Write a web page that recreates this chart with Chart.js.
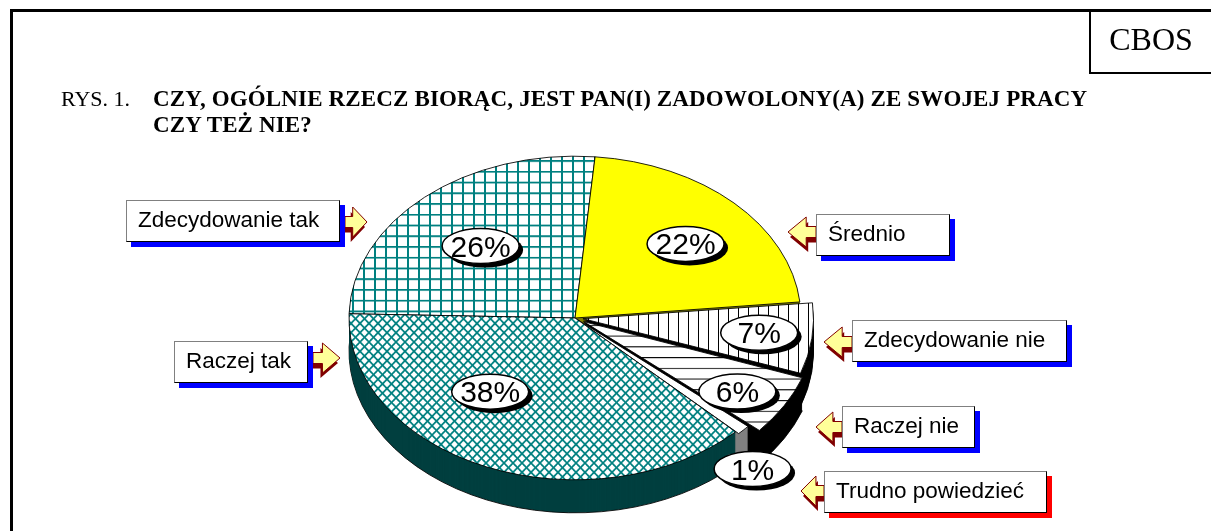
<!DOCTYPE html>
<html lang="pl">
<head>
<meta charset="utf-8">
<title>CBOS - zadowolenie z pracy</title>
<script src="https://cdn.jsdelivr.net/npm/chart.js@4.4.1/dist/chart.umd.min.js"></script>
<style>
  html, body { margin: 0; padding: 0; background: #fff; width: 1211px; height: 531px; overflow: hidden; }
  body { position: relative; }
  #wykres { position: absolute; left: 0; top: 0; }
  .ramka { position: absolute; background: #000; }
  .serif { position: absolute; white-space: nowrap; color: #000; font-family: 'Liberation Serif', 'Times New Roman', serif; line-height: 1; }
  .opis {
    position: absolute; box-sizing: border-box; height: 42px; background: #fff;
    border: 1px solid #808080; border-right-color: #000; border-bottom-color: #000;
    font-family: 'Liberation Sans', Arial, sans-serif; font-size: 22.5px; line-height: 38px;
    padding-left: 11px; white-space: nowrap; color: #000;
  }
</style>
</head>
<body>
<canvas id="wykres" width="1211" height="531"></canvas>

<div class="ramka" style="left:10px; top:9px; width:1201px; height:3px"></div>
<div class="ramka" style="left:10px; top:9px; width:3px; height:522px"></div>
<div class="ramka" style="left:1089px; top:9px; width:2px; height:65px"></div>
<div class="ramka" style="left:1089px; top:72px; width:122px; height:2px"></div>
<div class="serif" style="left:1091px; width:120px; text-align:center; top:23px; font-size:32px">CBOS</div>

<div class="serif" style="left:61px; top:88px; font-size:22px">RYS. 1.</div>
<div class="serif" style="left:153px; top:87px; font-size:23px; font-weight:bold; letter-spacing:0.15px">CZY, OGÓLNIE RZECZ BIORĄC, JEST PAN(I) ZADOWOLONY(A) ZE SWOJEJ PRACY</div>
<div class="serif" style="left:153px; top:113px; font-size:23px; font-weight:bold; letter-spacing:0.15px">CZY TEŻ NIE?</div>

<script>
// dane z wykresu
const kategorie = ['Zdecydowanie tak', 'Średnio', 'Zdecydowanie nie', 'Raczej nie', 'Trudno powiedzieć', 'Raczej tak'];
const procenty = [26, 22, 7, 6, 1, 38];

// wyglad "3D" tortu
const SRODEK = { x: 575, y: 318 };
const SPLASZCZENIE = 0.716;
const GLEBOKOSC = 33;
const PROMIEN = 226;
const wysuniecie = [0, 0, 32, 40, 8, 0];
const kolorBoku = ['#004040', '#808000', '#000000', '#000000', '#808080', '#013f3f'];
// [czesc promienia, przesuniecie kata w stopniach]
const polozenieEtykiet = [[0.61, -1.5], [0.67, 2.2], [0.82, -0.5], [0.85, 2], [1.22, 7], [0.59, 16.4]];

// ramki z opisami i strzalki
const dymki = [
  { lewo: 126, gora: 200, szer: 214, ogon: 345, grot: 367, y: 222, cien: '#0000ff' },
  { lewo: 816, gora: 214, szer: 134, ogon: 816, grot: 788, y: 232, cien: '#0000ff' },
  { lewo: 852, gora: 320, szer: 215, ogon: 852, grot: 824, y: 342, cien: '#0000ff' },
  { lewo: 842, gora: 406, szer: 133, ogon: 842, grot: 816, y: 427, cien: '#0000ff' },
  { lewo: 824, gora: 471, szer: 223, ogon: 824, grot: 801, y: 491, cien: '#ff0000' },
  { lewo: 174, gora: 341, szer: 134, ogon: 313, grot: 340, y: 358, cien: '#0000ff' }
];

kategorie.forEach((nazwa, i) => {
  const d = dymki[i];
  const el = document.createElement('div');
  el.className = 'opis';
  el.textContent = nazwa;
  el.style.left = d.lewo + 'px';
  el.style.top = d.gora + 'px';
  el.style.width = d.szer + 'px';
  el.style.boxShadow = '5px 5px 0 ' + d.cien;
  document.body.appendChild(el);
});

// wzory wypelnien (wyzsze kafelki, bo tort jest splaszczany)
function wzor(w, h, rysuj) {
  const c = document.createElement('canvas');
  c.width = w; c.height = h;
  const g = c.getContext('2d');
  g.fillStyle = '#fff';
  g.fillRect(0, 0, w, h);
  rysuj(g, w, h);
  return g.createPattern(c, 'repeat');
}

const kratka = wzor(11, 15, (g, w, h) => {
  g.fillStyle = '#008080';
  g.fillRect(0, 0, 2, h);
  g.fillRect(0, 0, w, 2.5);
});
const skosy = wzor(9, 13, (g, w, h) => {
  g.strokeStyle = '#008080';
  g.lineWidth = 2;
  g.beginPath();
  g.moveTo(-w, -h); g.lineTo(2 * w, 2 * h);
  g.moveTo(2 * w, -h); g.lineTo(-w, 2 * h);
  g.stroke();
});
const pionowe = wzor(10, 10, (g, w, h) => {
  g.fillStyle = '#000';
  g.fillRect(0, 0, 1, h);
});
const poziome = wzor(10, 15, (g, w, h) => {
  g.fillStyle = '#000';
  g.fillRect(0, 0, w, 1.4);
});

const wypelnienia = [kratka, '#ffff00', pionowe, poziome, '#ffffff', skosy];

function naElipse(ctx, luk) {
  ctx.translate(SRODEK.x, SRODEK.y);
  ctx.scale(1, SPLASZCZENIE);
  ctx.translate(-luk.x, -luk.y);
}

function srodekKata(luk) {
  return (luk.startAngle + luk.endAngle) / 2;
}

function strzalka(ctx, ogon, grot, y) {
  const k = Math.sign(grot - ogon);
  const glowa = Math.abs(grot - ogon) * 0.65;
  const hh = 15, sh = 5.5;
  const sciezka = (dx, dy) => {
    ctx.beginPath();
    ctx.moveTo(grot + dx, y + dy);
    ctx.lineTo(grot - k * glowa + dx, y - hh + dy);
    ctx.lineTo(grot - k * glowa + dx, y - sh + dy);
    ctx.lineTo(ogon + dx, y - sh + dy);
    ctx.lineTo(ogon + dx, y + sh + dy);
    ctx.lineTo(grot - k * glowa + dx, y + sh + dy);
    ctx.lineTo(grot - k * glowa + dx, y + hh + dy);
    ctx.closePath();
  };
  ctx.fillStyle = '#800000';
  sciezka(-2 * k, 5);
  ctx.fill();
  ctx.fillStyle = '#ffff99';
  ctx.strokeStyle = '#800000';
  ctx.lineWidth = 1;
  sciezka(0, 0);
  ctx.fill();
  ctx.stroke();
}

function etykieta(ctx, x, y, tekst) {
  const rx = 38.5, ry = 17.5;
  ctx.fillStyle = '#000';
  ctx.beginPath();
  ctx.ellipse(x + 4, y + 4, rx, ry, 0, 0, Math.PI * 2);
  ctx.fill();
  ctx.fillStyle = '#fff';
  ctx.strokeStyle = '#000';
  ctx.lineWidth = 1.5;
  ctx.beginPath();
  ctx.ellipse(x, y, rx, ry, 0, 0, Math.PI * 2);
  ctx.fill();
  ctx.stroke();
  ctx.fillStyle = '#000';
  ctx.font = '30px "Liberation Sans", Arial, sans-serif';
  ctx.textAlign = 'center';
  ctx.textBaseline = 'alphabetic';
  ctx.fillText(tekst, x, y + 10.5);
}

const tort3d = {
  id: 'tort3d',
  beforeDatasetsDraw(chart) {
    const ctx = chart.ctx;
    const luki = chart.getDatasetMeta(0).data;
    const kolejnosc = luki.map((l, i) => i)
      .sort((a, b) => Math.sin(srodekKata(luki[a])) - Math.sin(srodekKata(luki[b])));
    // boki: kopie wycinkow przesuniete w dol
    for (const i of kolejnosc) {
      const luk = luki[i];
      for (let dy = GLEBOKOSC; dy >= 1; dy--) {
        const kopia = Object.create(luk);
        kopia.options = Object.assign({}, luk.options, {
          backgroundColor: kolorBoku[i],
          borderColor: '#000',
          borderWidth: dy === GLEBOKOSC ? 1 : 0
        });
        ctx.save();
        ctx.translate(0, dy);
        naElipse(ctx, luk);
        kopia.draw(ctx);
        ctx.restore();
      }
    }
    ctx.save();
    naElipse(ctx, luki[0]);
  },
  afterDatasetsDraw(chart) {
    const ctx = chart.ctx;
    ctx.restore();
    const luki = chart.getDatasetMeta(0).data;
    luki.forEach((luk, i) => {
      const [f, dk] = polozenieEtykiet[i];
      const a = srodekKata(luk) + dk * Math.PI / 180;
      const r = f * luk.outerRadius;
      const x = SRODEK.x + Math.cos(a) * r;
      const y = SRODEK.y + Math.sin(a) * r * SPLASZCZENIE;
      etykieta(ctx, x, y, procenty[i] + '%');
    });
    dymki.forEach(d => strzalka(ctx, d.ogon, d.grot, d.y));
  }
};

new Chart(document.getElementById('wykres'), {
  type: 'pie',
  data: {
    labels: kategorie,
    datasets: [{
      data: procenty,
      backgroundColor: wypelnienia,
      borderColor: '#000',
      borderWidth: 1,
      offset: wysuniecie,
      clip: false
    }]
  },
  options: {
    responsive: false,
    animation: false,
    events: [],
    rotation: -88.5,
    radius: PROMIEN,
    layout: { padding: { left: 0, right: 61, top: 0, bottom: 0 } },
    plugins: {
      legend: { display: false },
      tooltip: { enabled: false }
    }
  },
  plugins: [tort3d]
});
</script>
</body>
</html>
